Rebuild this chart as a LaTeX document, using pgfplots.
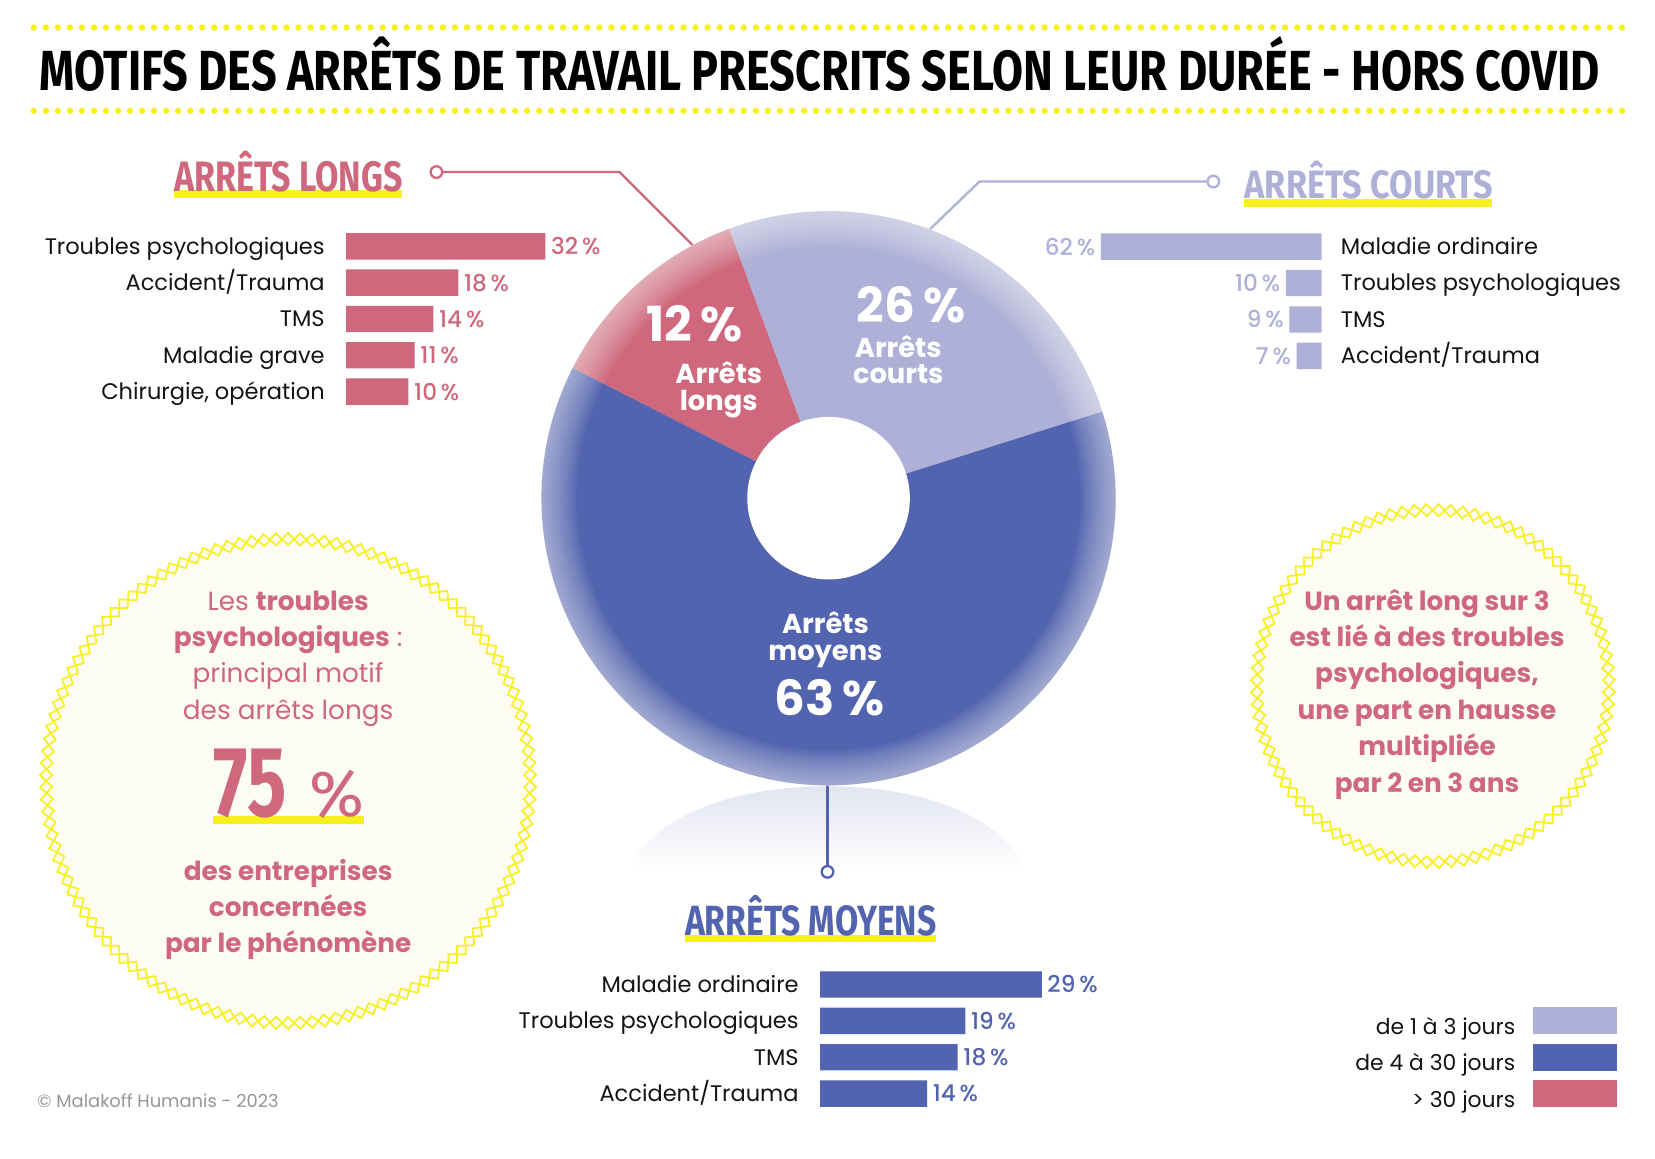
\documentclass[border=0pt]{standalone}
\usepackage{graphicx}
\usepackage{pgfplots}
\pgfplotsset{compat=1.18}
\usepackage{pgfplotstable}
\usepackage{fontspec}
\usetikzlibrary{decorations.pathmorphing}
\setmainfont{Poppins}
\newfontfamily\medfont{Poppins Medium}
\newfontfamily\headfont{Fira Sans}

\definecolor{cRed}{RGB}{207,104,124}
\definecolor{cLav}{RGB}{174,176,216}
\definecolor{cBlue}{RGB}{82,100,175}
\definecolor{cYel}{RGB}{246,240,30}
\definecolor{cCream}{RGB}{252,252,245}
\definecolor{cGrey}{RGB}{150,150,150}
\definecolor{cShadow}{RGB}{226,228,241}
\definecolor{cText}{RGB}{20,20,20}

\pgfplotstableread[col sep=semicolon]{
cat;val
Troubles psychologiques;32
Accident/Trauma;18
TMS;14
Maladie grave;11
Chirurgie, opération;10
}\longs

\pgfplotstableread[col sep=semicolon]{
cat;val
Maladie ordinaire;62
Troubles psychologiques;10
TMS;9
Accident/Trauma;7
}\courts

\pgfplotstableread[col sep=semicolon]{
cat;val
Maladie ordinaire;29
Troubles psychologiques;19
TMS;18
Accident/Trauma;14
}\moyens

\pgfplotsset{
  hbar/.style={
    xbar, scale only axis, clip=false,
    axis line style={draw=none}, tick style={draw=none},
    major tick length=0pt, xtick=\empty, ytick=data,
    xmin=0, y dir=reverse, ymin=-0.5,
    bar width=12.5bp,
    point meta=x,
    /pgf/number format/assume math mode=true,
    nodes near coords={\pgfmathprintnumber{\pgfplotspointmeta}\,\%},
    every node near coord/.append style={font=\medfont\fontsize{11}{13}\selectfont, inner sep=2.5bp},
    yticklabel style={font=\fontsize{10.7}{13}\selectfont, inner sep=0pt, text=cText},
  },
}

\begin{document}
\begin{tikzpicture}
\begin{scope}[x=0.5bp,y=-0.5bp]
\fill[white] (0,0) rectangle (1568,1098);
\useasboundingbox (0,0) rectangle (1568,1098);

% dotted lines
\draw[cYel, line width=3bp, line cap=round, dash pattern=on 0bp off 5.7bp] (32,26) -- (1538,26);
\draw[cYel, line width=3bp, line cap=round, dash pattern=on 0bp off 5.7bp] (32,105) -- (1538,105);
% title
\node[anchor=base west, inner sep=0] at (37,85.3) {\resizebox{739bp}{19bp}{\headfont\bfseries MOTIFS DES ARR\smash{Ê}TS DE TRAVAIL PRESCRITS SELON LEUR DUR\smash{É}E - HORS COVID}};

% headings
\fill[cYel] (165,180) rectangle (381,187.5);
\node[anchor=base west, inner sep=0] at (165,181) {\resizebox{108bp}{14.3bp}{\headfont\bfseries\color{cRed}ARR\smash{Ê}TS LONGS}};
\fill[cYel] (1179,188.5) rectangle (1414,195.8);
\node[anchor=base west, inner sep=0] at (1179,188.5) {\resizebox{117.5bp}{13.3bp}{\headfont\bfseries\color{cLav}ARR\smash{Ê}TS COURTS}};
\fill[cYel] (648.6,885.8) rectangle (886.5,892.8);
\node[anchor=base west, inner sep=0] at (648.6,886) {\resizebox{119bp}{14.2bp}{\headfont\bfseries\color{cBlue}ARR\smash{Ê}TS MOYENS}};

% shadow under the donut
\shade[top color=cShadow, bottom color=white] (596.5,822) .. controls (620,775) and (690,745) .. (784,745) .. controls (878,745) and (948,775) .. (971.5,822) -- cycle;

% connectors
\draw[cRed, line width=1.1bp] (419,163) -- (587,163) -- (660,236);
\draw[cRed, line width=1.1bp, fill=white] (413.5,163) circle[radius=5.5];
\draw[cLav, line width=1.1bp] (1143,172) -- (928,172) -- (876,222);
\draw[cLav, line width=1.1bp, fill=white] (1149.5,172) circle[radius=5.5];
\draw[cBlue, line width=1.1bp] (784,820) -- (784,740);
\draw[cBlue, line width=1.1bp, fill=white] (784,826) circle[radius=5.5];

% left circle
\fill[cCream] (273,740) circle[radius=233];
\draw[cYel, line width=0.8bp, decorate, decoration={zigzag, segment length=11.434bp, amplitude=2.85bp}] (273,740) circle[radius=229.3];
\draw[cYel, line width=0.8bp, decorate, decoration={zigzag, mirror, segment length=11.434bp, amplitude=2.85bp}] (273,740) circle[radius=229.3];
% right circle
\fill[cCream] (1357.5,650) circle[radius=170];
\draw[cYel, line width=0.8bp, decorate, decoration={zigzag, segment length=11.39bp, amplitude=2.85bp}] (1357.5,650) circle[radius=166.8];
\draw[cYel, line width=0.8bp, decorate, decoration={zigzag, mirror, segment length=11.39bp, amplitude=2.85bp}] (1357.5,650) circle[radius=166.8];

% circle texts
\begin{scope}[every node/.style={anchor=base, inner sep=0, text=cRed, font=\fontsize{12.5}{15}\selectfont}]
\node at (273,578) {Les \textbf{troubles}};
\node at (273,612.4) {\textbf{psychologiques} :};
\node at (273,646.8) {principal motif};
\node at (273,681.2) {des arrêts longs};
\node at (273,834) {\textbf{des entreprises}};
\node at (273,868.4) {\textbf{concernées}};
\node at (273,902.8) {\textbf{par le phénomène}};
\node at (1352,578) {\textbf{Un arrêt long sur 3}};
\node at (1352,612.5) {\textbf{est lié à des troubles}};
\node at (1352,647) {\textbf{psychologiques,}};
\node at (1352,681.5) {\textbf{une part en hausse}};
\node at (1352,716) {\textbf{multipliée}};
\node at (1352,750.5) {\textbf{par 2 en 3 ans}};
\end{scope}
\fill[cYel] (202,773) rectangle (345,781);
\node[anchor=base west, inner sep=0] at (202,773.7) {\resizebox{34.5bp}{32bp}{\headfont\bfseries\color{cRed}75}};
\node[anchor=base west, inner sep=0] at (293,773.7) {\resizebox{26bp}{22bp}{\headfont\color{cRed}\%}};

% legend
\begin{scope}[every node/.style={anchor=base east, inner sep=0, text=cText, font=\fontsize{10.4}{13}\selectfont}]
\node at (1436,980) {de 1 à 3 jours};
\node at (1436,1014.5) {de 4 à 30 jours};
\node at (1436,1049) {> 30 jours};
\end{scope}
\fill[cLav] (1452,954.5) rectangle (1532,980);
\fill[cBlue] (1452,989) rectangle (1532,1014.5);
\fill[cRed] (1452,1023.5) rectangle (1532,1049);

% copyright
\node[anchor=base west, inner sep=0, text=cGrey, font=\fontsize{8.5}{10}\selectfont] at (35,1049) {© Malakoff Humanis - 2023};
\end{scope}

% ===== donut =====
\begin{axis}[at={(392.5bp,-236bp)}, anchor=center, scale only axis, width=272bp, height=272bp,
  xmin=-1, xmax=1, ymin=-1, ymax=1, hide axis, clip=false]
\gdef\angstart{17.6}
\foreach \v/\c in {26/cLav,12/cRed,63/cBlue}{%
  \pgfmathsetmacro{\angend}{\angstart+\v/101*360}%
  \edef\temp{\noexpand\fill[\c] (axis cs:0,0) -- ++(\angstart:136bp) arc[start angle=\angstart, end angle=\angend, radius=136bp] -- cycle;}%
  \temp
  \global\let\angstart\angend
}
\end{axis}

\begin{scope}[x=0.5bp,y=-0.5bp]
\foreach \r in {239,242,...,269}{
  \fill[white, opacity=0.055, even odd rule] (785,472) circle[radius=273] circle[radius=\r];
}
\fill[white] (785,472) circle[radius=77];
\begin{scope}[every node/.style={anchor=base, inner sep=0, text=white}]
\node[font=\fontsize{23}{23}\selectfont\bfseries] at (658,324) {12\,\%};
\node[font=\fontsize{13}{15}\selectfont\bfseries] at (681,363) {Arrêts};
\node[font=\fontsize{13}{15}\selectfont\bfseries] at (681,389) {longs};
\node[font=\fontsize{23}{23}\selectfont\bfseries] at (863,306) {26\,\%};
\node[font=\fontsize{13}{15}\selectfont\bfseries] at (851,338.5) {Arrêts};
\node[font=\fontsize{13}{15}\selectfont\bfseries] at (851,363.6) {courts};
\node[font=\fontsize{13}{15}\selectfont\bfseries] at (782,600) {Arrêts};
\node[font=\fontsize{13}{15}\selectfont\bfseries] at (782,625.7) {moyens};
\node[font=\fontsize{23}{23}\selectfont\bfseries] at (786,678) {63\,\%};
\end{scope}
\end{scope}

% ===== bar charts =====
\begin{axis}[hbar, at={(164bp,-108.1bp)}, anchor=north west, width=94.4bp, height=86bp,
  xmax=32, ymax=4.5, yticklabels from table={\longs}{cat},
  yticklabel style={anchor=base east, xshift=-10bp, yshift=-3.7bp},
  every node near coord/.append style={text=cRed}]
\addplot[fill=cRed, draw=none] table[x=val, y expr=\coordindex] {\longs};
\end{axis}

\begin{axis}[hbar, at={(626bp,-108.2bp)}, anchor=north east, x dir=reverse, width=104.5bp, height=69bp,
  xmax=62, ymax=3.5, yticklabels from table={\courts}{cat}, yticklabel pos=right,
  yticklabel style={anchor=base west, xshift=9bp, yshift=-3.7bp},
  every node near coord/.append style={text=cLav, anchor=east}]
\addplot[fill=cLav, draw=none] table[x=val, y expr=\coordindex] {\courts};
\end{axis}

\begin{axis}[hbar, at={(388.5bp,-457.7bp)}, anchor=north west, width=105bp, height=69bp,
  xmax=29, ymax=3.5, yticklabels from table={\moyens}{cat},
  yticklabel style={anchor=base east, xshift=-10bp, yshift=-3.7bp},
  every node near coord/.append style={text=cBlue}]
\addplot[fill=cBlue, draw=none] table[x=val, y expr=\coordindex] {\moyens};
\end{axis}
\end{tikzpicture}
\end{document}
